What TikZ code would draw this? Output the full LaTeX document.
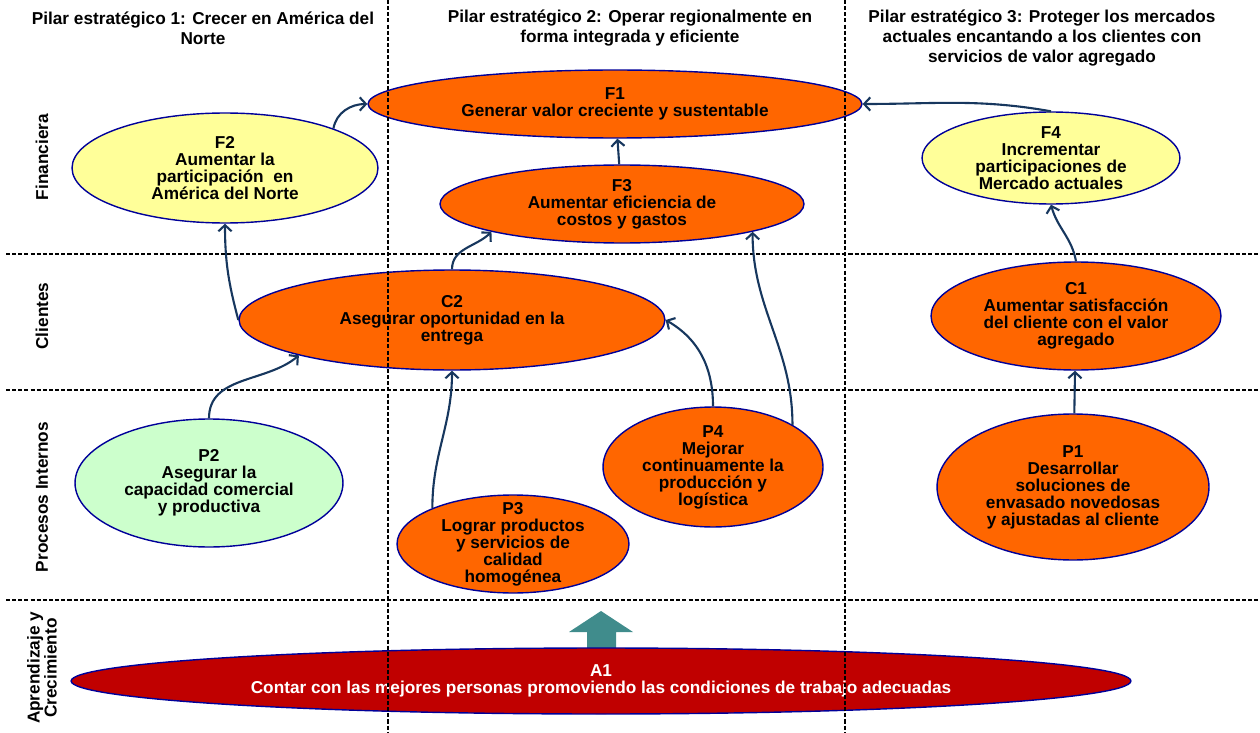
\documentclass[tikz,border=0pt]{standalone}
\usepackage{fontspec}
\setmainfont{Liberation Sans}
\usetikzlibrary{shapes.geometric}
\usetikzlibrary{arrows.meta}
\definecolor{naranja}{HTML}{FF6600}
\definecolor{amarillo}{HTML}{FFFF99}
\definecolor{verdeclaro}{HTML}{CCFFCC}
\definecolor{rojo}{HTML}{C00000}
\definecolor{borde}{HTML}{000099}
\definecolor{azulflecha}{HTML}{17375E}
\definecolor{verdeazul}{HTML}{408C8C}
\tikzset{
  obj/.style={ellipse, draw=borde, line width=0.8pt, align=center, inner sep=0pt,
    font=\bfseries\fontsize{9.8}{9.7}\selectfont},
  sz/.style 2 args={minimum width=#1cm, minimum height=#2cm},
  titulo/.style={align=center, font=\bfseries\fontsize{9.8}{11.3}\selectfont},
  perspectiva/.style={rotate=90, align=center, font=\bfseries\fontsize{9.8}{9.7}\selectfont},
  grid/.style={dash pattern=on 2.3pt off 1.2pt, line width=0.6pt},
  flecha/.style={->, azulflecha, line width=1.2pt},
  >={Straight Barb[length=3.5pt,width=7.5pt]}
}
\begin{document}
\begin{tikzpicture}[x=0.02cm, y=-0.02cm]
\useasboundingbox (0,0) rectangle (1260,733);
% encabezados
\node[titulo] (pilar1) at (203,28) {Pilar estratégico 1: Crecer en América del\\Norte};
\node[titulo] (pilar2) at (630,28) {Pilar estratégico 2: Operar regionalmente en\\forma integrada y eficiente};
\node[titulo] (pilar3) at (1042,38) {Pilar estratégico 3: Proteger los mercados\\actuales encantando a los clientes con\\servicios de valor agregado};
% perspectivas
\node[perspectiva] (fin) at (42,157) {Financiera};
\node[perspectiva] (cli) at (42,316) {Clientes};
\node[perspectiva] (pro) at (42,497) {Procesos Internos};
\node[perspectiva] (apr) at (42,668) {Aprendizaje y\\Crecimiento};
% objetivos
\node[obj, sz={9.88}{1.36}, fill=naranja] (F1) at (615,104) {F1\\Generar valor creciente y sustentable};
\node[obj, sz={6.12}{2.2}, fill=amarillo] (F2) at (225,168) {F2\\Aumentar la\\participación~~en\\América del Norte};
\node[obj, sz={7.28}{1.56}, fill=naranja] (F3) at (622,204) {F3\\Aumentar eficiencia de\\costos y gastos};
\node[obj, sz={5.16}{1.84}, fill=amarillo, inner ysep=-4pt] (F4) at (1051,158) {F4\\Incrementar\\participaciones de\\Mercado actuales};
\node[obj, sz={8.52}{2.0}, fill=naranja] (C2) at (452,320) {C2\\Asegurar oportunidad en la\\entrega};
\node[obj, sz={5.8}{2.16}, fill=naranja] (C1) at (1076,316) {C1\\Aumentar satisfacción\\del cliente con el valor\\agregado};
\node[obj, sz={5.36}{2.56}, fill=verdeclaro] (P2) at (209,483) {P2\\Asegurar la\\capacidad comercial\\y productiva};
\node[obj, sz={4.64}{1.96}, fill=naranja, inner ysep=-7pt] (P3) at (513,544) {P3\\Lograr productos\\y servicios de\\calidad\\homogénea};
\node[obj, sz={4.4}{2.4}, fill=naranja, inner ysep=-5pt] (P4) at (713,467) {P4\\Mejorar\\continuamente la\\producción y\\logística};
\node[obj, sz={5.44}{2.92}, fill=naranja] (P1) at (1073,487) {P1\\Desarrollar\\soluciones de\\envasado novedosas\\y ajustadas al cliente};
\fill[verdeazul] (587,652) -- (587,632) -- (569,632) -- (601,611) -- (633,632) -- (616,632) -- (616,652) -- cycle;
\node[obj, sz={21.2}{1.32}, fill=rojo, text=white] (A1) at (601,681) {A1\\Contar con las mejores personas promoviendo las condiciones de trabajo adecuadas};
% lineas divisorias
\foreach \y in {254,390,600} {
\draw[grid] (6,\y) -- (1260,\y);
}
\foreach \x in {388,845} {
\draw[grid] (\x,0) -- (\x,733);
}
% relaciones causa-efecto
\draw[flecha] (F2.20) to[out=80,in=180] (F1.west);
\draw[flecha] (F3) -- (F1);
\draw[flecha] (F4.north) to[out=170,in=0] (F1.east);
\draw[flecha] (C2.west) to[out=105,in=-90] (F2.south);
\draw[flecha] (C2.north) to[out=90,in=-135] (F3.192);
\draw[flecha] (P4.28) to[out=90,in=-90] (F3.-12);
\draw[flecha] (P4.north) to[out=90,in=-30] (C2.east);
\draw[flecha] (P3.156) to[out=90,in=-90] (C2.south);
\draw[flecha] (P2.north) to[out=90,in=-140] (C2.193);
\draw[flecha] (P1) -- (C1);
\draw[flecha] (C1.north) to[out=100,in=-75] (F4.south);
\end{tikzpicture}
\end{document}
